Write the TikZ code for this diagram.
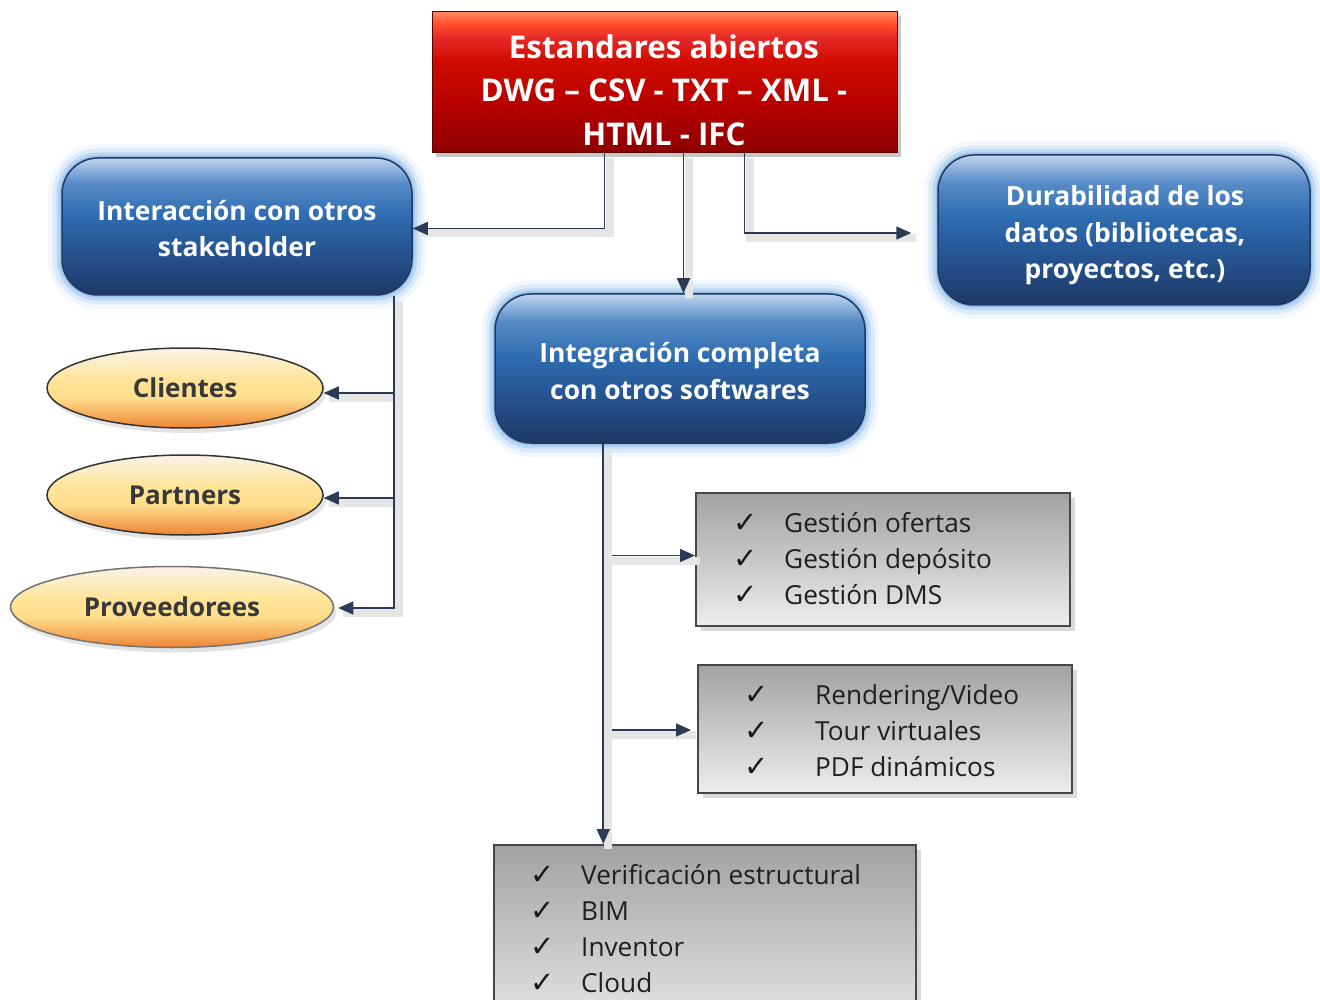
\documentclass[tikz,border=0pt]{standalone}
\usepackage{fontspec}
\setmainfont{Open Sans}
\newfontfamily\symfont{DejaVu Sans}
\usetikzlibrary{arrows.meta,shapes.geometric,shadows}
\definecolor{navy}{HTML}{2C3B55}
\definecolor{blueline}{HTML}{1F3864}
\definecolor{glow}{HTML}{8DBBE9}
\definecolor{graytop}{HTML}{A2A2A2}
\definecolor{graybot}{HTML}{EDEDED}
\pgfdeclareverticalshading{redshade}{100bp}{
  color(0bp)=(red!55!black); color(25bp)=(red!55!black); color(40bp)=(red!70!black);
  color(58bp)=(red!80!black!90!orange); color(66bp)=(red!82!white!90!black); color(71bp)=(red!60!orange!85!white);
  color(75bp)=(orange!45!red!60!white); color(100bp)=(orange!45!red!60!white)}
\pgfdeclareverticalshading{blueshade}{100bp}{
  color(0bp)=(rgb,255:red,30;green,56;blue,100); color(25bp)=(rgb,255:red,30;green,56;blue,100);
  color(42bp)=(rgb,255:red,38;green,86;blue,148); color(54bp)=(rgb,255:red,46;green,108;blue,176);
  color(66bp)=(rgb,255:red,88;green,140;blue,200); color(75bp)=(rgb,255:red,192;green,214;blue,238);
  color(100bp)=(rgb,255:red,192;green,214;blue,238)}
\pgfdeclareverticalshading{ellshade}{100bp}{
  color(0bp)=(rgb,255:red,238;green,132;blue,52); color(25bp)=(rgb,255:red,238;green,132;blue,52);
  color(33bp)=(rgb,255:red,245;green,170;blue,90); color(44bp)=(rgb,255:red,254;green,222;blue,140);
  color(55bp)=(rgb,255:red,254;green,228;blue,152); color(75bp)=(rgb,255:red,250;green,244;blue,232);
  color(100bp)=(rgb,255:red,250;green,244;blue,232)}
\begin{document}
\begin{tikzpicture}[x=1pt,y=-1pt,
  redbox/.style={rectangle, draw=red!35!black, line width=1pt, minimum width=465pt, minimum height=141pt, inner sep=0pt,
    shading=redshade,
    drop shadow={shadow xshift=4pt, shadow yshift=-4pt, opacity=0.45}},
  bluebox/.style={rectangle, rounded corners=36pt, draw=blueline, line width=1.5pt, inner sep=0pt,
    shading=blueshade,
    preaction={draw=glow, draw opacity=0.12, line width=28pt},
    preaction={draw=glow, draw opacity=0.22, line width=19pt},
    preaction={draw=glow, draw opacity=0.4, line width=11pt},
    preaction={draw=glow, draw opacity=0.7, line width=5pt}},
  bluetext/.style={inner sep=0pt, text=white, font=\bfseries\fontsize{26.4}{36.5}\selectfont, align=center},
  ellbox/.style={ellipse, draw=black!80, line width=1.5pt, inner sep=0pt,
    shading=ellshade,
    drop shadow={shadow xshift=3pt, shadow yshift=-5pt, opacity=0.22},
    text=black!78, font=\bfseries\fontsize{26}{30}\selectfont},
  graybox/.style={rectangle, draw=black!72, line width=2pt, inner sep=0pt,
    top color=graytop, bottom color=graybot,
    drop shadow={shadow xshift=5pt, shadow yshift=-5pt, opacity=0.3}},
  chk/.style={anchor=base, inner sep=0pt, font=\symfont\fontsize{29}{30}\selectfont, text=black!90},
  itemtxt/.style={anchor=base west, inner sep=0pt, font=\fontsize{26.2}{30}\selectfont, text=black!88},
  conn/.style={draw=navy, line width=1.6pt, -{Triangle[length=15pt,width=13pt]},
    preaction={draw=black!10, line width=8pt, -, transform canvas={xshift=5pt,yshift=-5pt}}},
]
\useasboundingbox (0,0) rectangle (1320,1000);
\clip (0,0) rectangle (1320,1000);

% boxes
\node[redbox] (std) at (664.5,82.5) {};
\node[inner sep=0pt, text=white, font=\bfseries\fontsize{31.3}{43.5}\selectfont, align=center] (stdtext) at (664,90)
  {Estandares abiertos\\DWG – CSV - TXT – XML -\\HTML - IFC};

\node[bluebox, minimum width=350pt, minimum height=137pt] (inter) at (237,226.5) {};
\node[bluebox, minimum width=370pt, minimum height=149pt] (integ) at (680,368.5) {};
\node[bluebox, minimum width=372pt, minimum height=150pt] (dur) at (1124,230) {};
\node[bluetext] (intertext) at (237,228.5) {Interacción con otros\\stakeholder};
\node[bluetext] (integtext) at (680,371) {Integración completa\\con otros softwares};
\node[bluetext] (durtext) at (1125,235.5) {Durabilidad de los\\datos (bibliotecas,\\proyectos, etc.)};

\node[ellbox, minimum width=276pt, minimum height=80pt] (cli) at (185,388) {Clientes};
\node[ellbox, minimum width=276pt, minimum height=80pt] (par) at (185,495) {Partners};
\node[ellbox, draw=black!55, minimum width=323pt, minimum height=81pt] (pro) at (172,607) {Proveedorees};

\node[graybox, minimum width=374pt, minimum height=133pt] (g1) at (883,559.5) {};
\node[graybox, minimum width=374pt, minimum height=128pt] (g2) at (885,729) {};
\node[graybox, minimum width=422pt, minimum height=200pt] (g3) at (705,945) {};

% items
\node[chk] (c11) at (746,532) {✓};
\node[chk] (c12) at (746,568) {✓};
\node[chk] (c13) at (746,604) {✓};
\node[itemtxt] (t11) at (784,532) {Gestión ofertas};
\node[itemtxt] (t12) at (784,568) {Gestión depósito};
\node[itemtxt] (t13) at (784,604) {Gestión DMS};

\node[chk] (c21) at (757,704) {✓};
\node[chk] (c22) at (757,740) {✓};
\node[chk] (c23) at (757,776) {✓};
\node[itemtxt] (t21) at (815,704) {Rendering/Video};
\node[itemtxt] (t22) at (815,740) {Tour virtuales};
\node[itemtxt] (t23) at (815,776) {PDF dinámicos};

\node[chk] (c31) at (543,884) {✓};
\node[chk] (c32) at (543,920) {✓};
\node[chk] (c33) at (543,956) {✓};
\node[chk] (c34) at (543,992) {✓};
\node[itemtxt] (t31) at (581,884) {Verificación estructural};
\node[itemtxt] (t32) at (581,920) {BIM};
\node[itemtxt] (t33) at (581,956) {Inventor};
\node[itemtxt] (t34) at (581,992) {Cloud};

% connectors
\coordinate (s1) at ([xshift=173pt]std.south west);
\coordinate (s2) at ([xshift=252pt]std.south west);
\coordinate (s3) at ([xshift=313pt]std.south west);
\coordinate (durin) at ([xshift=-26pt,yshift=-3pt]dur.west);
\draw[conn] (s1) |- ([yshift=-2pt]inter.east);
\draw[conn] (s2) -- (s2 |- integ.north);
\draw[conn] (s3) |- (durin);

\coordinate (i1) at ([xshift=-19pt]inter.south east);
\draw[conn] (i1) |- ([yshift=-5pt]cli.east);
\draw[conn] (i1) |- ([yshift=-3pt]par.east);
\draw[conn] (i1) |- ([xshift=4pt,yshift=-1pt]pro.east);

\coordinate (m1) at ([xshift=109pt]integ.south west);
\draw[conn] (m1) |- ([yshift=4pt]g1.west);
\draw[conn] (m1) |- ([xshift=-6pt,yshift=-1pt]g2.west);
\draw[conn] (m1) -- (m1 |- g3.north);
\end{tikzpicture}
\end{document}
